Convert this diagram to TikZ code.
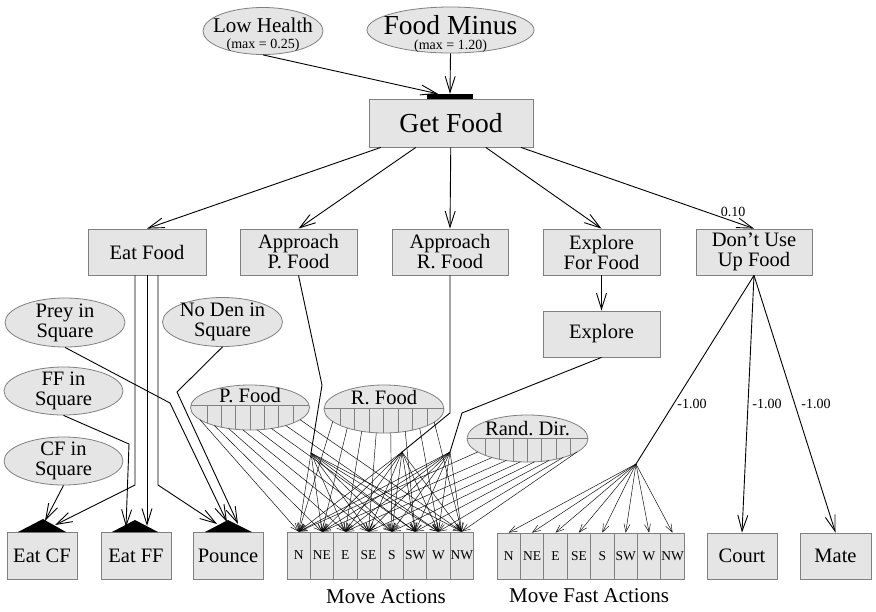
\documentclass[tikz,border=0pt]{standalone}
\usepackage{fontspec}
\setmainfont{Liberation Serif}
\usetikzlibrary{arrows.meta,shapes.geometric}
\definecolor{boxfill}{RGB}{229,229,229}
\definecolor{boxline}{RGB}{128,128,128}
\frenchspacing
\begin{document}
\begin{tikzpicture}[x=1pt,y=-1pt,
  box/.style={draw=boxline, fill=boxfill, line width=0.8pt, inner sep=0pt, align=center,
    font=\fontsize{20.5}{20}\selectfont},
  ell/.style={ellipse, draw=boxline, fill=boxfill, line width=0.8pt, inner sep=0pt},
  txt/.style={inner sep=0pt, align=center, font=\fontsize{20.5}{20}\selectfont},
  small/.style={inner sep=0pt, font=\fontsize{14}{14}\selectfont},
  cell/.style={draw=boxline, fill=boxfill, line width=0.8pt, inner sep=0pt,
    minimum height=47pt, font=\fontsize{13.5}{14}\selectfont},
  conn/.style={line width=0.9pt, draw=black},
  arr/.style={conn, -{Straight Barb[length=16pt,width=10pt,line width=0.9pt]}},
  fan/.style={line width=0.45pt, -{Straight Barb[length=8pt,width=6pt,line width=0.45pt]}},
  divline/.style={draw=boxline, line width=0.7pt}
]
\useasboundingbox (0,0) rectangle (876,611);

% ---------- top ----------
\node[ell, minimum width=120pt, minimum height=47pt] (LH) at (263,31) {};
\node[txt, anchor=base, font=\fontsize{21}{21}\selectfont] (LHt) at (263,32) {Low Health};
\node[small, anchor=base] (LHm) at (263,48) {(max = 0.25)};
\node[ell, minimum width=167pt, minimum height=46pt] (FM) at (450.5,30) {};
\node[txt, anchor=base, font=\fontsize{27.5}{27.5}\selectfont] (FMt) at (450.5,34.5) {Food Minus};
\node[small, anchor=base] (FMm) at (450.5,49.5) {(max = 1.20)};
\node[fill=black, minimum width=46pt, minimum height=5pt, inner sep=0pt] (bar) at (450,96.5) {};
\node[box, minimum width=164pt, minimum height=48pt, font=\fontsize{27.5}{27.5}\selectfont] (GF) at (451,123) {Get Food};

% ---------- second row ----------
\node[box, minimum width=118pt, minimum height=46pt] (EF) at (147,252) {Eat Food};
\node[box, minimum width=117pt, minimum height=46pt] (AP) at (298.5,252) {Approach\\P. Food};
\node[box, minimum width=116pt, minimum height=46pt] (AR) at (450,252) {Approach\\R. Food};
\node[box, minimum width=117pt, minimum height=46pt] (EFF) at (601.5,252) {Explore\\For Food};
\node[box, minimum width=116pt, minimum height=46pt] (DU) at (754,252) {Don’t Use\\Up Food};
\node[box, minimum width=117pt, minimum height=46pt] (EX) at (601.5,334) {Explore};

% ---------- left ellipses ----------
\node[ell, minimum width=120pt, minimum height=49pt] (PR) at (65,322.5) {};
\node[txt] (PRt) at (65,322.5) {Prey in\\Square};
\node[ell, minimum width=119pt, minimum height=48pt] (FFS) at (63.5,391) {};
\node[txt] (FFSt) at (63.5,391) {FF in\\Square};
\node[ell, minimum width=119pt, minimum height=48pt] (CFS) at (63.5,461) {};
\node[txt] (CFSt) at (63.5,461) {CF in\\Square};
\node[ell, minimum width=120pt, minimum height=49pt] (ND) at (222.5,322) {};
\node[txt] (NDt) at (222.5,322) {No Den in\\Square};

% ---------- divided ellipses ----------
\node[ell, minimum width=119pt, minimum height=45pt] (PF) at (250,407.5) {};
\begin{scope}
  \clip (250,407.5) ellipse [x radius=59.5pt, y radius=22.5pt];
  \draw[divline] (185,405) -- (315,405);
  \foreach \k in {1,...,7} \draw[divline] ({250+14.3*(\k-4)},405) -- ++(0,30);
\end{scope}
\node[txt, anchor=base] (PFt) at (250,402) {P. Food};

\node[ell, minimum width=120pt, minimum height=48pt] (RF) at (384,409) {};
\begin{scope}
  \clip (384,409) ellipse [x radius=60pt, y radius=24pt];
  \draw[divline] (320,408) -- (450,408);
  \foreach \k in {1,...,7} \draw[divline] ({383.5+14.5*(\k-4)},408) -- ++(0,30);
\end{scope}
\node[txt, anchor=base] (RFt) at (384,404) {R. Food};

\node[ell, minimum width=121pt, minimum height=47pt] (RD) at (527.5,438.5) {};
\begin{scope}
  \clip (527.5,438.5) ellipse [x radius=60.5pt, y radius=23.5pt];
  \draw[divline] (460,438) -- (595,438);
  \foreach \k in {1,...,7} \draw[divline] ({527.5+14.2*(\k-4)},438) -- ++(0,30);
\end{scope}
\node[txt, anchor=base] (RDt) at (527.5,435) {Rand. Dir.};

% ---------- bottom boxes ----------
\node[box, minimum width=70pt, minimum height=47pt] (ECF) at (42,555.5) {Eat CF};
\node[box, minimum width=70pt, minimum height=47pt] (EFF2) at (136,555.5) {Eat FF};
\node[box, minimum width=70pt, minimum height=47pt] (PO) at (228,555.5) {Pounce};
\node[box, minimum width=70pt, minimum height=46pt] (CO) at (742,556) {Court};
\node[box, minimum width=71pt, minimum height=46pt] (MA) at (835.5,556) {Mate};

\foreach \lab [count=\i from 0] in {N,NE,E,SE,S,SW,W,NW} {
  \node[cell, minimum width=23.3pt] (ma\i) at ({287+23.3*(\i+0.5)},555.5) {\lab};
  \node[cell, minimum width=23.4pt, minimum height=46pt] (mf\i) at ({497+23.4*(\i+0.5)},556) {\lab};
}
\node[txt, font=\fontsize{21}{21}\selectfont] (MAt) at (386,597) {Move Actions};
\node[txt, font=\fontsize{21}{21}\selectfont] (MFt) at (589,596) {Move Fast Actions};

% ---------- AND triangles ----------
\fill (18,532) -- (43,519) -- (66,532) -- cycle;
\fill (112,532) -- (135,520) -- (158,532) -- cycle;
\fill (205,532) -- (228,520) -- (252,532) -- cycle;
\coordinate (tcf1) at (45,521);
\coordinate (tcf2) at (55,525);
\coordinate (tff1) at (126,527);
\coordinate (tff2) at (147,526);
\coordinate (tpo1) at (217,524);
\coordinate (tpo2) at (227,522);
\coordinate (tpo3) at (238,524);

% ---------- junctions ----------
\coordinate (J1) at (311,453);
\coordinate (J2) at (402,452);
\coordinate (J3) at (450,452);
\coordinate (J4) at (636,464);

% ---------- main connectors ----------
\draw[arr] (LH.south) -- ([xshift=-12pt]bar.north);
\draw[arr] (FM.south) -- (bar.north);
\draw[arr] (GF) -- (EF.north);
\draw[arr] (GF) -- (AP.north);
\draw[arr] (GF) -- (AR.north);
\draw[arr] (GF) -- (EFF.north);
\draw[arr] (GF) -- (DU.north);
\node[small] (w010) at (733,212) {0.10};
\draw[arr] (EFF.south) -- (EX.north);

\draw[arr] ([xshift=-12pt]EF.south) -- (135,485) -- (tcf2);
\draw[arr] (EF.south) -- (tff2);
\draw[arr] ([xshift=11pt]EF.south) -- (158,485) -- (tpo1);
\draw[arr] (CFS.south) -- (tcf1);
\draw[arr] (FFS.south) -- (129,444) -- (tff1);
\draw[arr] (PR.south) -- (170,403) -- (tpo2);
\draw[arr] (ND.south) -- (177,392) -- (tpo3);

\draw[conn] (AP.south) -- (322,385) -- (J1);
\draw[conn] (AR.south) -- (450,413) -- (J2);
\draw[conn] (EX.south) -- (462,413) -- (J3);

\draw[conn] (DU.south) -- (J4);
\draw[arr] (DU.south) -- (CO.north);
\draw[arr] (DU.south) -- (MA.north);
\node[small] (w1) at (692,404) {-1.00};
\node[small] (w2) at (767,404) {-1.00};
\node[small] (w3) at (816,404) {-1.00};

% ---------- fans ----------
\foreach \k in {0,...,7} {
  \pgfmathsetmacro\xa{250+14.3*(\k-3.5)}
  \pgfmathsetmacro\ua{(\xa-250)/59.5}
  \pgfmathsetmacro\ya{407.5+22.5*sqrt(1-\ua*\ua)}
  \coordinate (pf\k) at (\xa,\ya);
  \pgfmathsetmacro\xb{383.5+14.5*(\k-3.5)}
  \pgfmathsetmacro\ub{(\xb-384)/60}
  \pgfmathsetmacro\yb{409+24*sqrt(1-\ub*\ub)}
  \coordinate (rf\k) at (\xb,\yb);
  \pgfmathsetmacro\xc{527.5+14.2*(\k-3.5)}
  \pgfmathsetmacro\uc{(\xc-527.5)/60.5}
  \pgfmathsetmacro\yc{438.5+23.5*sqrt(1-\uc*\uc)}
  \coordinate (rd\k) at (\xc,\yc);
  \draw[fan] (pf\k) -- (ma\k.north);
  \draw[fan] (rf\k) -- (ma\k.north);
  \draw[fan] (rd\k) -- (ma\k.north);
  \draw[fan] (J1) -- (ma\k.north);
  \draw[fan] (J2) -- (ma\k.north);
  \draw[fan] (J3) -- (ma\k.north);
  \draw[fan] (J4) -- (mf\k.north);
}
\end{tikzpicture}
\end{document}
